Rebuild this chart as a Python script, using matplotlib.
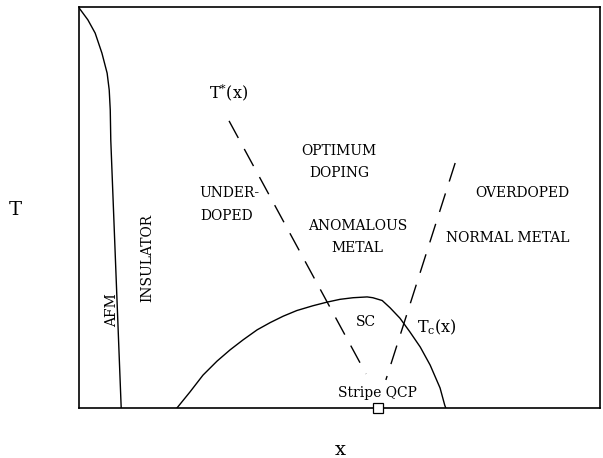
import matplotlib
matplotlib.use("Agg")
import matplotlib.pyplot as plt

plt.rcParams["font.family"] = "DejaVu Serif"
plt.rcParams["mathtext.fontset"] = "dejavuserif"

# AFM boundary (x, T) in normalized units
afm_x = [0.0, 0.017, 0.031, 0.044, 0.054, 0.058, 0.060, 0.061, 0.081]
afm_t = [0.998, 0.968, 0.935, 0.885, 0.835, 0.793, 0.743, 0.668, 0.0]

# superconducting dome
sc_x = [0.188, 0.213, 0.238, 0.265, 0.290, 0.315, 0.342, 0.367, 0.392, 0.418,
        0.449, 0.476, 0.501, 0.526, 0.553, 0.564, 0.582, 0.597, 0.616, 0.635,
        0.655, 0.674, 0.693, 0.702, 0.704]
sc_t = [0.0, 0.040, 0.082, 0.117, 0.145, 0.170, 0.195, 0.213, 0.229, 0.243,
        0.255, 0.264, 0.271, 0.275, 0.277, 0.275, 0.268, 0.250, 0.224, 0.190,
        0.152, 0.107, 0.050, 0.007, 0.0]

# crossover lines T*(x) and the overdoped one
tstar_x = [0.288, 0.551]
tstar_t = [0.716, 0.085]
over_x = [0.722, 0.589]
over_t = [0.611, 0.070]

qcp_x = [0.574]
qcp_t = [0.0]

labels = [
    (0.288, 0.788, r"T$^{*}$(x)", 0, 11.5),
    (0.499, 0.641, "OPTIMUM", 0, 10),
    (0.499, 0.586, "DOPING", 0, 10),
    (0.288, 0.536, "UNDER-", 0, 10),
    (0.284, 0.479, "DOPED", 0, 10),
    (0.535, 0.454, "ANOMALOUS", 0, 10),
    (0.535, 0.399, "METAL", 0, 10),
    (0.850, 0.536, "OVERDOPED", 0, 10),
    (0.822, 0.424, "NORMAL METAL", 0, 10),
    (0.132, 0.374, "INSULATOR", 90, 10),
    (0.063, 0.244, "AFM", 90, 10),
    (0.551, 0.214, "SC", 0, 10),
    (0.687, 0.202, r"T$_{\rm c}$(x)", 0, 11.5),
    (0.572, 0.037, "Stripe QCP", 0, 10),
]

fig = plt.figure(figsize=(6.03, 4.58), dpi=100)
ax = fig.add_axes([79 / 603, 50 / 458, 521 / 603, 401 / 458])

ax.plot(afm_x, afm_t, color="black", lw=1.0)
ax.plot(sc_x, sc_t, color="black", lw=1.0)
ax.plot(tstar_x, tstar_t, color="black", lw=1.0, dashes=(14, 9))
ax.plot(over_x, over_t, color="black", lw=1.0, dashes=(14, 9))
ax.plot(qcp_x, qcp_t, marker="s", ms=6.5, mfc="white", mec="black", mew=0.9,
        ls="none", clip_on=False, zorder=5)

for x, y, s, rot, fs in labels:
    ax.text(x, y, s, fontsize=fs, ha="center", va="center", rotation=rot)

ax.set_xlim(0, 1)
ax.set_ylim(0, 1)
ax.set_xticks([])
ax.set_yticks([])
for sp in ax.spines.values():
    sp.set_linewidth(1.2)

fig.text(15 / 603, 1 - 210 / 458, "T", fontsize=14, ha="center", va="center")
fig.text(340 / 603, 1 - 450 / 458, "x", fontsize=14, ha="center", va="center")

fig.savefig("out.png", dpi=100)
